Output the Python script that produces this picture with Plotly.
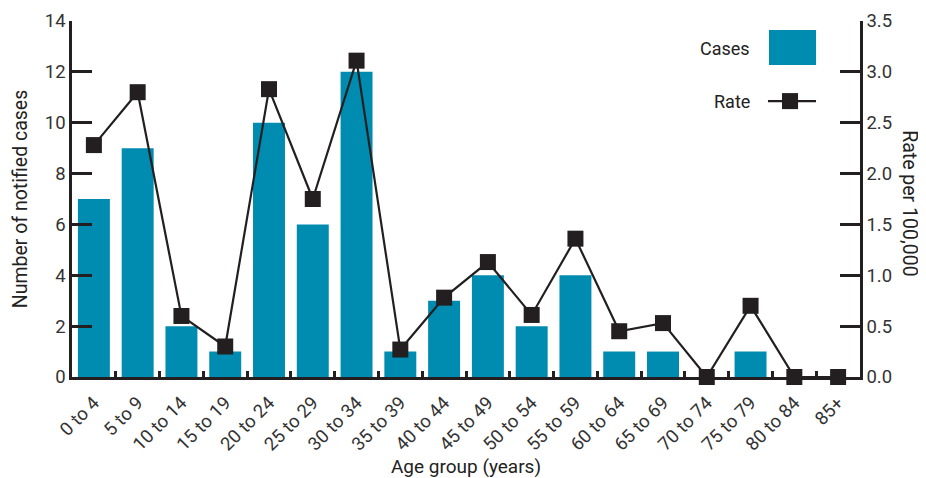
import plotly.graph_objects as go

age_groups = ["0 to 4", "5 to 9", "10 to 14", "15 to 19", "20 to 24", "25 to 29",
              "30 to 34", "35 to 39", "40 to 44", "45 to 49", "50 to 54", "55 to 59",
              "60 to 64", "65 to 69", "70 to 74", "75 to 79", "80 to 84", "85+"]
cases = [7, 9, 2, 1, 10, 6, 12, 1, 3, 4, 2, 4, 1, 1, 0, 1, 0, 0]
rate = [2.28, 2.80, 0.60, 0.30, 2.83, 1.75, 3.11, 0.27, 0.78, 1.13, 0.61, 1.36,
        0.45, 0.53, 0.0, 0.70, 0.0, 0.0]
cases_ticks = [0, 2, 4, 6, 8, 10, 12, 14]
rate_ticks = [0.0, 0.5, 1.0, 1.5, 2.0, 2.5, 3.0, 3.5]

BAR = "#008bb0"
INK = "#231f20"
FONT = "Roboto"
TXT = "#222"

fig = go.Figure()
fig.add_trace(go.Bar(x=age_groups, y=cases, marker=dict(color=BAR, line=dict(width=0)),
                     width=0.73, name="Cases", showlegend=False))
fig.add_trace(go.Scatter(x=age_groups, y=rate, yaxis="y2", mode="lines+markers",
                         line=dict(color=INK, width=2.2),
                         marker=dict(symbol="square", size=16, color=INK),
                         cliponaxis=False, name="Rate", showlegend=False))

axis_common = dict(showgrid=False, zeroline=False, showline=True, linecolor=INK, linewidth=2.5,
                   tickcolor=INK, tickwidth=2.5, automargin=False,
                   tickfont=dict(family=FONT, size=18.5, color="#333"))
title_font = dict(family=FONT, size=19.5, color=TXT)

fig.update_layout(
    width=926, height=478,
    margin=dict(l=64, r=74, t=13, b=109),
    plot_bgcolor="white", paper_bgcolor="white",
    font=dict(family=FONT, color=TXT),
    xaxis=dict(type="category", range=[-0.5, 17.5], ticks="inside", ticklen=6,
               tickson="boundaries", tickangle=-45, ticklabelstandoff=5,
               title=dict(text="Age group (years)", font=dict(family=FONT, size=19, color=TXT),
                          standoff=3),
               **axis_common),
    yaxis=dict(range=[0, 14], tickvals=cases_ticks, ticks="inside", ticklen=20,
               title=dict(text="Number of notified cases", font=title_font, standoff=12),
               **axis_common),
    yaxis2=dict(range=[0, 3.5], tickvals=rate_ticks, tickformat=".1f", overlaying="y",
                side="right", ticks="inside", ticklen=20, **axis_common),
)

# y2 title reading top-to-bottom
fig.add_annotation(text="Rate per 100,000", xref="paper", yref="paper", x=1.062, y=0.486,
                   textangle=90, showarrow=False, xanchor="center", yanchor="middle",
                   font=title_font)

# custom legend
fig.add_annotation(text="Cases", xref="paper", yref="paper", x=0.863, y=0.924,
                   xanchor="right", yanchor="middle", showarrow=False,
                   font=dict(family=FONT, size=18, color=TXT))
fig.add_shape(type="rect", xref="paper", yref="paper", x0=0.8845, x1=0.9442, y0=0.8764, y1=0.9747,
              fillcolor=BAR, line=dict(width=0))
fig.add_annotation(text="Rate", xref="paper", yref="paper", x=0.863, y=0.775,
                   xanchor="right", yanchor="middle", showarrow=False,
                   font=dict(family=FONT, size=18, color=TXT))
fig.add_shape(type="line", xref="paper", yref="paper", x0=0.8832, x1=0.9442, y0=0.775, y1=0.775,
              line=dict(color=INK, width=2.2))
fig.add_shape(type="rect", xref="paper", yref="paper", x0=0.9010, x1=0.9214, y0=0.7525, y1=0.7975,
              fillcolor=INK, line=dict(width=0))

fig.write_html("out.html")
